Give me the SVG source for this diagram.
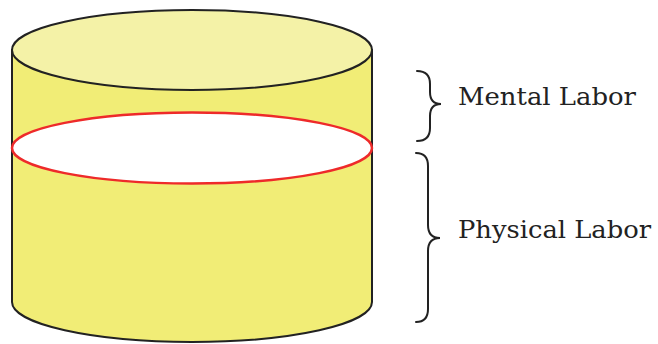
<svg xmlns="http://www.w3.org/2000/svg" width="658" height="344" viewBox="0 0 658 344">
<style>
.lbl{font-family:"DejaVu Serif","Liberation Serif",serif;font-size:25px;fill:#222;}
.brace{fill:none;stroke:#222;stroke-width:2;stroke-linecap:round;}
</style>
<rect width="658" height="344" fill="#fff"/>
<g id="cylinder">
<path d="M12,50 L12,302 A180,40 0 0 0 372,302 L372,50 Z" fill="#f1ed76" stroke="#222" stroke-width="2"/>
<ellipse cx="192" cy="50" rx="180" ry="40" fill="#f4f2a7" stroke="#222" stroke-width="2"/>
<ellipse cx="192" cy="148" rx="180" ry="35.5" fill="#fff" stroke="#ee2a2a" stroke-width="2.5"/>
</g>
<g id="connectors">
<path class="brace" d="M417,71 Q430,71 430,84 L430,92 Q430,104 441,104 Q430,104 430,116 L430,128 Q430,141 417,141"/>
<path class="brace" d="M416,153 Q428,153 428,166 L428,225 Q428,238 440,238 Q428,238 428,251 L428,309 Q428,322 416,322"/>
</g>
<g id="mental">
<text class="lbl" x="458" y="105" textLength="178" lengthAdjust="spacingAndGlyphs">Mental Labor</text>
</g>
<g id="physical">
<text class="lbl" x="458" y="238" textLength="193" lengthAdjust="spacingAndGlyphs">Physical Labor</text>
</g>
</svg>
